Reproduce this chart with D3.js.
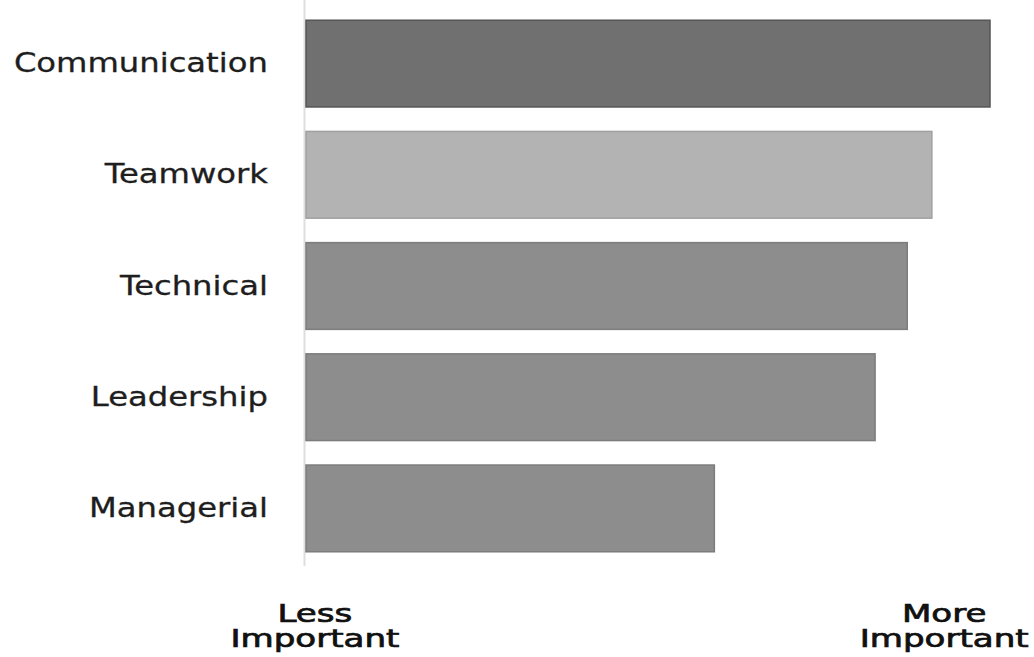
<!DOCTYPE html>
<html>
<head>
<meta charset="utf-8">
<script src="https://cdn.jsdelivr.net/npm/d3@7"></script>
<style>
  html, body { margin: 0; padding: 0; background: #fff; }
  svg { display: block; }
  text { font-family: "DejaVu Sans", Verdana, sans-serif; }
</style>
</head>
<body>
<svg id="chart" width="1034" height="657"></svg>
<script>
const categories = ["Communication", "Teamwork", "Technical", "Leadership", "Managerial"];
const values = [100, 91.5, 87.9, 83.2, 59.7];
const barColors = ["#707070", "#b3b3b3", "#8d8d8d", "#8d8d8d", "#8d8d8d"];
const strokeColors = ["#555555", "#a0a0a0", "#7c7c7c", "#7c7c7c", "#7c7c7c"];
const axisEndLabels = [["Less", "Important"], ["More", "Important"]];

const svg = d3.select("#chart");

const x = d3.scaleLinear().domain([0, 100]).range([306, 990]);
const y = d3.scaleBand().domain(categories).range([8, 564]).paddingInner(0.22).paddingOuter(0.11);

// vertical axis line
svg.append("line")
  .attr("x1", 304.5).attr("x2", 304.5)
  .attr("y1", 0).attr("y2", 566)
  .attr("stroke", "#dedede").attr("stroke-width", 2);

// bars
svg.selectAll("rect.bar")
  .data(categories)
  .join("rect")
  .attr("class", "bar")
  .attr("x", x(0))
  .attr("y", d => y(d))
  .attr("width", (d, i) => x(values[i]) - x(0))
  .attr("height", y.bandwidth())
  .attr("fill", (d, i) => barColors[i])
  .attr("stroke", (d, i) => strokeColors[i])
  .attr("stroke-width", 1.5);

function stretchedText(g, str, xPos, yPos, anchor, size, color, strokeW, stretch) {
  const t = g.append("text")
    .attr("font-size", size)
    .attr("fill", color)
    .attr("stroke", color)
    .attr("stroke-width", strokeW)
    .attr("dominant-baseline", "middle")
    .text(str);
  const w = t.node().getComputedTextLength() * stretch;
  let left = xPos;
  if (anchor === "end") left = xPos - w;
  else if (anchor === "middle") left = xPos - w / 2;
  t.attr("transform", `translate(${left},${yPos}) scale(${stretch},1)`);
  return t;
}

// category labels
categories.forEach(c => {
  stretchedText(svg, c, 268, y(c) + y.bandwidth() / 2 + 1, "end", 26, "#1e1e1e", 0.3, 1.24);
});

// axis end labels
const endX = [x(1.3), x(93.3)];
axisEndLabels.forEach((lines, i) => {
  lines.forEach((ln, j) => {
    stretchedText(svg, ln, endX[i], 615 + j * 25, "middle", 24, "#111", 0.7, 1.42);
  });
});
</script>
</body>
</html>
